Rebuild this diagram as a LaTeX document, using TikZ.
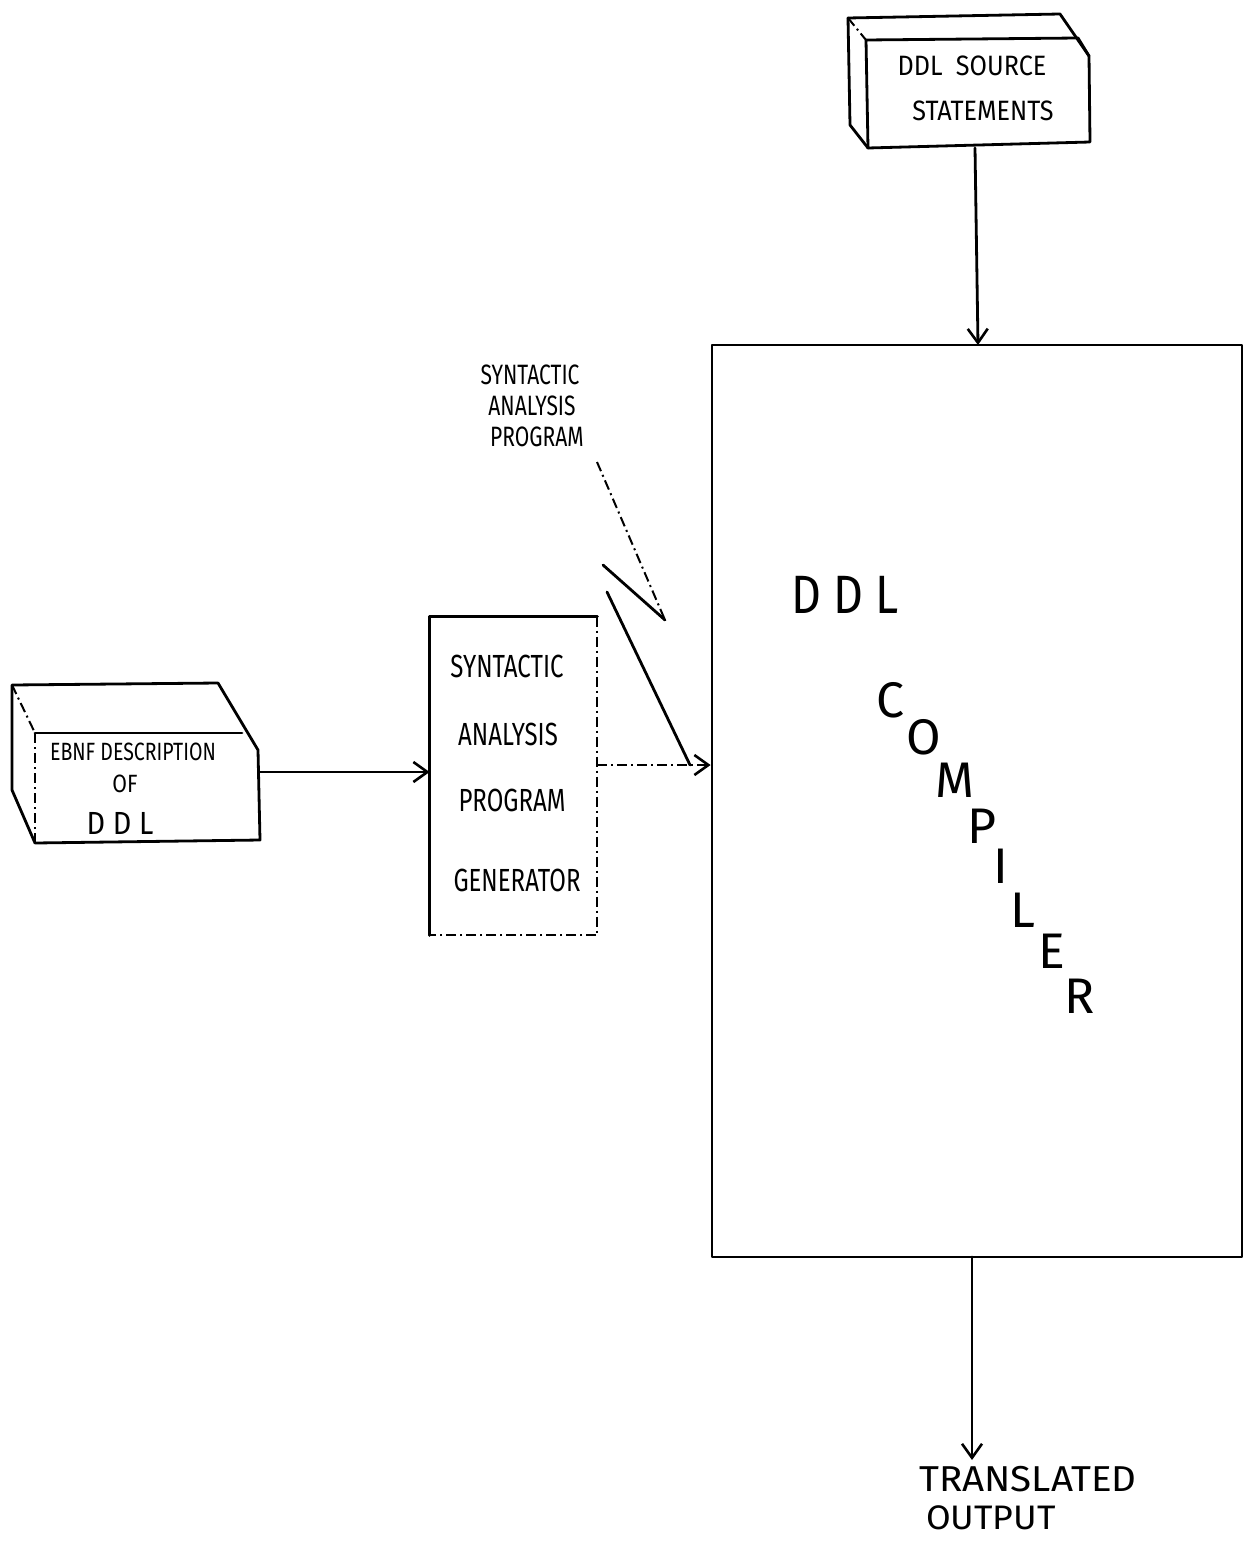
\documentclass[tikz,border=0pt]{standalone}
\usepackage{fontspec}
\setmainfont{Fira Sans}
\usetikzlibrary{arrows.meta}
\newcommand{\hwtext}[2]{\scalebox{#1}[1]{#2}}
\tikzset{
  ink/.style={line width=1.4pt, line join=round, line cap=round},
  faint/.style={line width=1.0pt, dash pattern=on 5pt off 2pt on 1pt off 2pt},
  barb/.style={-{Straight Barb[length=7pt,width=10pt,line width=1.3pt]}},
  lbl/.style={inner sep=0pt, font=\fontsize{#1}{#1}\selectfont},
}
\begin{document}
\begin{tikzpicture}[x=0.5pt,y=-0.5pt]
\useasboundingbox (0,0) rectangle (1252,1541);
\fill[white] (0,0) rectangle (1252,1541);

% ---------- DDL source statements (card deck) ----------
\coordinate (sA) at (848,18);
\coordinate (sB) at (1060,14);
\coordinate (sC) at (1089,56);
\coordinate (sD) at (1090,142);
\coordinate (sE) at (868,148);
\coordinate (sF) at (866,40);
\coordinate (sG) at (1078,38);
\coordinate (sH) at (850,125);
\draw[ink] (sF) -- (sG) -- (sC) -- (sD) -- (sE) -- cycle;
\draw[ink] (sA) -- (sB) -- (sC);
\draw[ink] (sA) -- (sH) -- (sE);
\draw[faint] (sA) -- (sF);
\node[lbl=14] (src1) at (972,66) {\hwtext{0.9}{DDL\ \ SOURCE}};
\node[lbl=14] (src2) at (983,111) {\hwtext{0.9}{STATEMENTS}};
\coordinate (srcOut) at (975,148);

% ---------- DDL compiler ----------
\node[ink, draw, minimum width=265pt, minimum height=456pt, inner sep=0pt] (comp) at (977,801) {};
\node[lbl=27] (ddl) at (845,595) {\hwtext{0.86}{D D L}};
\node[lbl=25] (c1) at (890,700) {C};
\node[lbl=25] (c2) at (924,737) {O};
\node[lbl=25] (c3) at (955,780) {M};
\node[lbl=25] (c4) at (982,826) {P};
\node[lbl=25] (c5) at (1001,866) {I};
\node[lbl=25] (c6) at (1023,910) {L};
\node[lbl=25] (c7) at (1052,951) {E};
\node[lbl=25] (c8) at (1080,996) {R};

\draw[ink, barb] (srcOut) -- (978,345);

% ---------- Translated output ----------
\node[lbl=18] (out1) at (1028,1479) {\hwtext{1.07}{TRANSLATED}};
\node[lbl=17] (out2) at (991,1518) {\hwtext{1.05}{OUTPUT}};
\draw[ink, barb] (972,1257) -- (972,1460);

% ---------- EBNF description (card) ----------
\coordinate (eA) at (12,685);
\coordinate (eB) at (218,683);
\coordinate (eC) at (258,750);
\coordinate (eD) at (260,840);
\coordinate (eE) at (35,843);
\coordinate (eF) at (35,733);
\coordinate (eG) at (242,733);
\coordinate (eH) at (12,790);
\draw[ink] (eA) -- (eB) -- (eC) -- (eD) -- (eE) -- (eH) -- cycle;
\draw[ink] (eF) -- (eG);
\draw[faint] (eF) -- (eE);
\draw[faint] (eA) -- (eF);
\node[lbl=12.5] (eb1) at (133,752) {\hwtext{0.78}{EBNF DESCRIPTION}};
\node[lbl=12.5] (eb2) at (125,784) {\hwtext{0.85}{OF}};
\node[lbl=16] (eb3) at (120,823) {\hwtext{0.9}{D D L}};
\coordinate (ebOut) at (260,772);

% ---------- Syntactic analysis program generator ----------
\node[minimum width=83.5pt, minimum height=159pt, inner sep=0pt] (sapg) at (513.5,776) {};
\draw[ink] (sapg.south west) -- (sapg.north west) -- (sapg.north east);
\draw[faint] (sapg.north east) -- (sapg.south east) -- (sapg.south west);
\node[lbl=16] (g1) at (507,666) {\hwtext{0.75}{SYNTACTIC}};
\node[lbl=16] (g2) at (508,734) {\hwtext{0.75}{ANALYSIS}};
\node[lbl=16] (g3) at (512,800) {\hwtext{0.75}{PROGRAM}};
\node[lbl=16] (g4) at (517,880) {\hwtext{0.75}{GENERATOR}};

\draw[ink, barb] (ebOut) -- (sapg.west |- ebOut);
\draw[faint, barb] (sapg.east |- 0,765) -- (comp.west |- 0,765);

% ---------- label with zigzag pointer ----------
\node[lbl=14] (lab1) at (530,375) {\hwtext{0.75}{SYNTACTIC}};
\node[lbl=14] (lab2) at (532,406) {\hwtext{0.75}{ANALYSIS}};
\node[lbl=14] (lab3) at (537,437) {\hwtext{0.75}{PROGRAM}};
\coordinate (z0) at (597,462);
\coordinate (z1) at (665,620);
\coordinate (z2) at (603,565);
\coordinate (z3) at (607,592);
\coordinate (z4) at (690,765);
\draw[faint] (z0) -- (z1);
\draw[ink] (z1) -- (z2);
\draw[ink] (z3) -- (z4);
\end{tikzpicture}
\end{document}
